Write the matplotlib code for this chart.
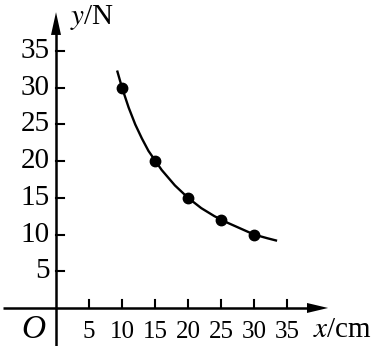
import matplotlib
matplotlib.use("Agg")
import matplotlib.pyplot as plt

# measured points
x_pts = [10, 15, 20, 25, 30]
y_pts = [30, 20, 15, 12, 10]

# smooth curve
x_curve = [9.3, 10, 11, 12, 13, 14, 16, 18, 20, 22, 24, 26, 28, 30, 32, 33.3]
y_curve = [32.2, 30, 27.3, 25, 23.1, 21.4, 18.8, 16.7, 15, 13.6, 12.5, 11.6, 10.8, 10, 9.5, 9.2]

x_ticks = [5, 10, 15, 20, 25, 30, 35]
y_ticks = [5, 10, 15, 20, 25, 30, 35]

serif = "Liberation Serif"

fig = plt.figure(figsize=(3.77, 3.46), dpi=100, facecolor="white")
ax = fig.add_axes([0, 0, 1, 1])
ax.set_xlim(-8.48, 48.6)
ax.set_ylim(-5.18, 41.96)
ax.axis("off")

# per-pixel scale
px_x = 1 / 6.6
px_y = 1 / 7.34

# axes with arrows
ax.plot([-8.0, 38.5], [0, 0], color="black", lw=1.8, solid_capstyle="butt")
ax.plot([0, 0], [-5.5, 37.5], color="black", lw=1.8, solid_capstyle="butt")
ax.fill([41.2, 38.0, 38.0], [0, 5 * px_y, -5 * px_y], color="black", lw=0)
ax.fill([0, 5 * px_x, -5 * px_x], [40.3, 37.2, 37.2], color="black", lw=0)

# ticks
for t in x_ticks:
    ax.plot([t, t], [0, 8 * px_y], color="black", lw=1.5)
    ax.text(t, -24 * px_y, str(t), ha="center", va="center",
            fontsize=18, family=serif)
for t in y_ticks:
    ax.plot([0, 8 * px_x], [t, t], color="black", lw=1.5)
    ax.text(-6 * px_x, t, str(t), ha="right", va="center",
            fontsize=21, family=serif)

ax.text(-23 * px_x, -22 * px_y, "O", ha="center", va="center",
        fontsize=24, family=serif, style="italic")
ax.text(14 * px_x, 290 * px_y, "$\\mathit{y}$/N", ha="left", va="center",
        fontsize=21, family=serif, math_fontfamily="stix")
ax.text(257 * px_x, -22 * px_y, "$\\mathit{x}$/cm", ha="left", va="center",
        fontsize=21, family=serif, math_fontfamily="stix")

ax.plot(x_curve, y_curve, color="black", lw=1.7)
ax.plot(x_pts, y_pts, "o", color="black", markersize=7.5)

fig.savefig("out.png", dpi=100, facecolor="white")
